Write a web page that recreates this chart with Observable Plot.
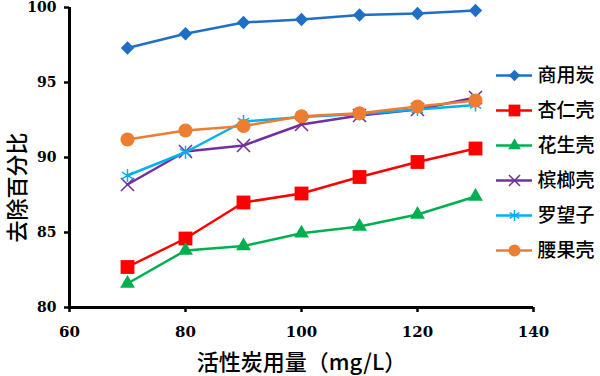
<!DOCTYPE html>
<html><head><meta charset="utf-8">
<script src="https://cdn.jsdelivr.net/npm/d3@7"></script>
<script src="https://cdn.jsdelivr.net/npm/@observablehq/plot@0.6"></script>
<style>
body{margin:0;background:#fff;}
#wrap{position:relative;width:600px;height:376px;}
#legend{position:absolute;left:490px;top:57px;}
</style></head><body><div id="wrap"><div id="chart"></div><div id="legend"></div></div>
<script>
const doses = [70, 80, 90, 100, 110, 120, 130];
const seriesNames = ["商用炭", "杏仁壳", "花生壳", "槟榔壳", "罗望子", "腰果壳"];
const commercial = [97.3, 98.25, 99.0, 99.2, 99.5, 99.6, 99.8];
const almond = [82.7, 84.6, 87.0, 87.6, 88.7, 89.7, 90.6];
const peanut = [81.6, 83.8, 84.1, 84.95, 85.4, 86.2, 87.4];
const betel = [88.2, 90.4, 90.8, 92.2, 92.8, 93.2, 94.0];
const tamarind = [88.8, 90.35, 92.4, 92.7, 92.9, 93.2, 93.5];
const cashew = [91.2, 91.8, 92.1, 92.75, 92.95, 93.4, 93.8];
const xTicks = [60, 80, 100, 120, 140];
const yTicks = [80, 85, 90, 95, 100];
const xLabel = "活性炭用量（mg/L）";
const yLabel = "去除百分比";

const colors = ["#1F6FC5", "#FF0000", "#00B050", "#7030A0", "#00B0F0", "#ED7D31"];
const symbols = ["diamond2", "square", "triangle", "times", "asterisk", "circle"];
const radii = [6, 7.8, 5.5, 6, 6.2, 7];
const filled = [true, true, true, false, false, true];

const values = [commercial, almond, peanut, betel, tamarind, cashew];
const rows = seriesNames.flatMap((s, i) => doses.map((d, j) => ({series: s, dose: d, pct: values[i][j]})));

const marks = [];
seriesNames.forEach((s, i) => {
  const data = rows.filter(r => r.series === s);
  marks.push(Plot.line(data, {x: "dose", y: "pct", stroke: colors[i], strokeWidth: 2.5}));
  marks.push(Plot.dot(data, {
    x: "dose", y: "pct", symbol: symbols[i], r: radii[i],
    fill: filled[i] ? colors[i] : "none",
    stroke: filled[i] ? "none" : colors[i], strokeWidth: 1.5
  }));
});

const chart = Plot.plot({
  width: 600, height: 376,
  marginLeft: 69, marginRight: 67, marginTop: 7, marginBottom: 69,
  style: {fontFamily: "'DejaVu Serif', serif", fontWeight: "bold", background: "#fff", color: "#000", overflow: "visible"},
  x: {domain: [xTicks[0], xTicks[xTicks.length - 1]]},
  y: {domain: [yTicks[0], yTicks[yTicks.length - 1]]},
  marks: [
    Plot.axisX({ticks: xTicks, tickSize: 5, tickPadding: 14, fontSize: 15, label: null, strokeWidth: 2.5}),
    Plot.axisY({ticks: yTicks, tickSize: 5, tickPadding: 8, fontSize: 14, label: null, strokeWidth: 2.5}),
    Plot.ruleX([xTicks[0]], {strokeWidth: 3}),
    Plot.ruleY([yTicks[0]], {strokeWidth: 3}),
    ...marks,
    Plot.text([yLabel], {frameAnchor: "left", textAnchor: "middle", lineAnchor: "middle", rotate: -90, dx: -52, dy: 30, fontSize: 22, fontFamily: "'Noto Sans CJK SC', sans-serif", fontWeight: 500}),
    Plot.text([xLabel], {frameAnchor: "bottom", textAnchor: "middle", lineAnchor: "middle", dx: 0, dy: 55, fontSize: 22, fontFamily: "'Noto Sans CJK SC', sans-serif", fontWeight: 500})
  ]
});
document.getElementById("chart").appendChild(chart);

const legendMarks = [
  Plot.ruleY(seriesNames, {y: d => d, x1: () => 0, x2: () => 1, stroke: d => d, strokeWidth: 2.5})
];
seriesNames.forEach((s, i) => {
  legendMarks.push(Plot.dot([s], {
    x: () => 0.5, y: d => d, symbol: symbols[i], r: radii[i] * 0.85,
    fill: filled[i] ? colors[i] : "none",
    stroke: filled[i] ? "none" : colors[i], strokeWidth: 1.5
  }));
});
legendMarks.push(Plot.text(seriesNames, {x: () => 1, y: d => d, text: d => d, textAnchor: "start", dx: 5, fontSize: 19, fontFamily: "'Noto Sans CJK SC', sans-serif", fontWeight: 500, fill: "#000"}));

const legend = Plot.plot({
  width: 110, height: 210,
  marginLeft: 6, marginRight: 68, marginTop: 18, marginBottom: 17,
  style: {background: "transparent", overflow: "visible"},
  x: {domain: [0, 1], axis: null},
  y: {type: "point", domain: seriesNames, axis: null, padding: 0},
  color: {domain: seriesNames, range: colors},
  marks: legendMarks
});
document.getElementById("legend").appendChild(legend);
</script>
</body></html>
